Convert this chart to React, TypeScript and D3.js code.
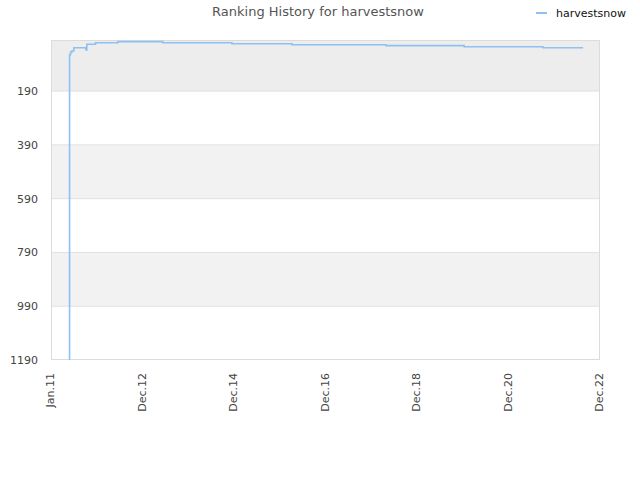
import React from "react";
import * as d3 from "d3";

const title = "Ranking History for harvestsnow";
const seriesName = "harvestsnow";
const dates = [
  "2011-05-25", "2011-05-28", "2011-06-05", "2011-06-15", "2011-07-01",
  "2011-10-05", "2011-10-12", "2011-12-20", "2012-06-15", "2013-06-05",
  "2014-12-05", "2016-03-25", "2018-04-10", "2019-12-20", "2021-09-05", "2022-07-20",
];
const ranks = [1190, 55, 45, 41, 29, 37, 16, 10, 6, 10, 14, 17.5, 21, 25, 28.6, 28.6];
const yTicks = [190, 390, 590, 790, 990, 1190];
const xTickLabels = ["Jan.11", "Dec.12", "Dec.14", "Dec.16", "Dec.18", "Dec.20", "Dec.22"];
const xStart = "2011-01-01";
const xEnd = "2022-12-01";

export default function App() {
  const W = 640, H = 480;
  const left = 51, right = 600, top = 40, bottom = 360;
  const parse = d3.timeParse("%Y-%m-%d");
  const x = d3.scaleTime().domain([parse(xStart)!, parse(xEnd)!]).range([left, right]);
  const y = d3.scaleLinear().domain([0, 1190]).range([top, bottom]);
  const data = dates.map((d, i) => ({ date: parse(d)!, rank: ranks[i] }));
  const line = d3.line<{ date: Date; rank: number }>()
    .x(d => x(d.date)).y(d => y(d.rank)).curve(d3.curveStepAfter);
  const [d0, d1] = x.domain().map(d => +d);
  const xTicks = xTickLabels.map((_, i) => new Date(d0 + (i * (d1 - d0)) / 6));
  const bandEdges = [0, ...yTicks];
  const font = "DejaVu Sans, sans-serif";
  return (
    <svg width={W} height={H} style={{ position: "absolute", left: 0, top: 0 }}>
      <rect x={0} y={0} width={W} height={H} fill="#fff" />
      {bandEdges.slice(0, -1).map((v, i) => (
        <rect key={v} x={left} y={y(v)} width={right - left} height={y(bandEdges[i + 1]) - y(v)}
          fill={i === 0 ? "#ededed" : i % 2 === 0 ? "#f2f2f2" : "#ffffff"} />
      ))}
      {yTicks.slice(0, -1).map(v => (
        <line key={v} x1={left} x2={right} y1={y(v)} y2={y(v)} stroke="#e0e0e0" />
      ))}
      <rect x={left + 0.5} y={top + 0.5} width={right - left - 1} height={bottom - top - 1}
        fill="none" stroke="#dcdcdc" />
      {yTicks.map(v => (
        <text key={v} x={38} y={y(v) + 4} textAnchor="end" fontSize={11} fontFamily={font} fill="#444">{v}</text>
      ))}
      {xTicks.map((t, i) => (
        <text key={i} transform={`translate(${x(t) + 3},${bottom + 13}) rotate(-90)`} textAnchor="end"
          fontSize={11} fontFamily={font} fill="#444">{xTickLabels[i]}</text>
      ))}
      <g>
        <clipPath id="clip"><rect x={left} y={top} width={right - left} height={bottom - top} /></clipPath>
        <path d={line(data) || ""} fill="none" stroke="#8fc0f2" strokeWidth={1.6} clipPath="url(#clip)" />
      </g>
      <text x={318} y={16} textAnchor="middle" fontSize={13} fontFamily={font} fill="#555">{title}</text>
      <line x1={536} x2={547} y1={13} y2={13} stroke="#8fc0f2" strokeWidth={2} />
      <text x={556} y={17} fontSize={11} fontFamily={font} fill="#111">{seriesName}</text>
    </svg>
  );
}
